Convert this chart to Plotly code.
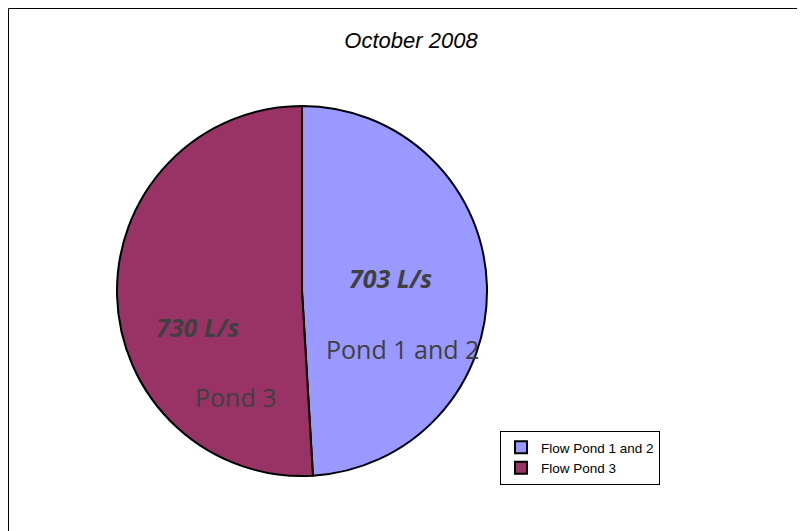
import plotly.graph_objects as go

# October 2008 flows
labels = ["Flow Pond 1 and 2", "Flow Pond 3"]
flows = [703, 730]
colors = ["#9999FF", "#993366"]
pond_names = ["Pond 1 and 2", "Pond 3"]

W, H = 805, 531
OFF = 8  # page body margin


def px_x(x):
    return (x - OFF) / W


def px_y(y):
    return 1 - (y - OFF) / H


fig = go.Figure(go.Pie(
    labels=labels,
    values=flows,
    sort=False,
    direction="clockwise",
    rotation=0,
    marker=dict(colors=colors, line=dict(color="black", width=2)),
    textinfo="none",
    hoverinfo="label+value",
    domain=dict(x=[px_x(117), px_x(487)], y=[px_y(476), px_y(106)]),
))

# value and name labels placed like the original Excel chart
val_pos = [(390, 278), (197, 327)]
name_pos = [(402, 349), (236, 397)]
for i in range(len(flows)):
    fig.add_annotation(
        x=px_x(val_pos[i][0]), y=px_y(val_pos[i][1]), xref="paper", yref="paper",
        xanchor="center", yanchor="middle",
        text="<b><i>%d L/s</i></b>" % flows[i], showarrow=False,
        font=dict(family="Open Sans", size=25, color="#404040"),
    )
    fig.add_annotation(
        x=px_x(name_pos[i][0]), y=px_y(name_pos[i][1]), xref="paper", yref="paper",
        xanchor="center", yanchor="middle",
        text=pond_names[i], showarrow=False,
        font=dict(family="Open Sans", size=25, color="#404040"),
    )

# chart area border (cut off on the right and bottom)
fig.add_shape(type="rect", xref="paper", yref="paper",
              x0=px_x(8.5), y0=-0.1, x1=1.1, y1=px_y(8.5),
              line=dict(color="black", width=1))

fig.update_layout(
    width=W, height=H,
    margin=dict(l=0, r=0, t=0, b=0),
    paper_bgcolor="white",
    title=dict(text="<i>October 2008</i>", x=px_x(411), xanchor="center",
               y=px_y(40), yanchor="middle",
               font=dict(family="Arial", size=22, color="black")),
    legend=dict(x=px_x(500), y=px_y(431), xanchor="left", yanchor="top",
                bordercolor="black", borderwidth=1, bgcolor="white",
                font=dict(family="Arial", size=13.5, color="black")),
)

fig.write_html("out.html")
